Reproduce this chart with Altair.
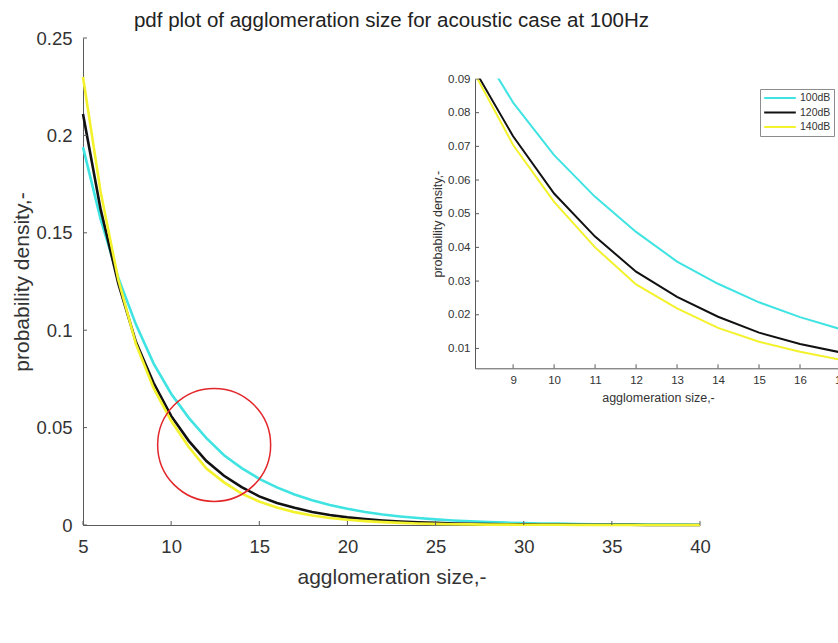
import altair as alt
import pandas as pd

# ---------------- data ----------------
sizes = list(range(5, 41))
pdf_100db = [0.194, 0.157, 0.127, 0.103, 0.0830, 0.0674, 0.0550, 0.0446, 0.0358, 0.0292,
             0.0237, 0.0193, 0.0157, 0.0127, 0.0103, 0.0083, 0.0067, 0.0054, 0.0044, 0.0036,
             0.0029, 0.0023, 0.0019, 0.0015, 0.0012, 0.0010, 0.0008, 0.0007, 0.0005, 0.0004,
             0.0004, 0.0003, 0.0002, 0.0002, 0.0002, 0.0001]
pdf_120db = [0.211, 0.162, 0.124, 0.094, 0.0730, 0.0560, 0.0432, 0.0328, 0.0253, 0.0194,
             0.0147, 0.0113, 0.0088, 0.0067, 0.0051, 0.0039, 0.0030, 0.0023, 0.0018, 0.0014,
             0.0011, 0.0008, 0.0006, 0.0005, 0.0004, 0.0003, 0.0002, 0.0002, 0.0001, 0.0001,
             0.0001, 0.0001, 0.0000, 0.0000, 0.0000, 0.0000]
pdf_140db = [0.230, 0.171, 0.126, 0.093, 0.0704, 0.0535, 0.0400, 0.0290, 0.0219, 0.0161,
             0.0120, 0.0090, 0.0066, 0.0049, 0.0036, 0.0027, 0.0020, 0.0015, 0.0011, 0.0008,
             0.0006, 0.0004, 0.0003, 0.0002, 0.0002, 0.0001, 0.0001, 0.0001, 0.0000, 0.0000,
             0.0000, 0.0000, 0.0000, 0.0000, 0.0000, 0.0000]
series_names = ["100dB", "120dB", "140dB"]
series_colors = ["#3fe4e2", "#111111", "#f3f22c"]

main_x_ticks = [5, 10, 15, 20, 25, 30, 35, 40]
main_y_ticks = [0, 0.05, 0.1, 0.15, 0.2, 0.25]
inset_x_ticks = [9, 10, 11, 12, 13, 14, 15, 16, 17]
inset_y_ticks = [0.01, 0.02, 0.03, 0.04, 0.05, 0.06, 0.07, 0.08, 0.09]

circle_x = [12.44]
circle_y = [0.0411]

title_text = "pdf plot of agglomeration size for acoustic case at 100Hz"
x_title = "agglomeration size,-"
y_title = "probability density,-"

# ---------------- layout / style ----------------
FONT = "Liberation Sans"
TXT = "#333333"
AXC = "#5a5a5a"
W, H = 617, 487
INSET_XR = [392, 758]
INSET_YR = [330.3, 41]
INSET_XD = [8.07, 17.0]
INSET_YD = [0.0041, 0.09]

rows = []
for name, vals in zip(series_names, [pdf_100db, pdf_120db, pdf_140db]):
    for s, v in zip(sizes, vals):
        rows.append({"size": s, "pdf": v, "series": name})
df = pd.DataFrame(rows)
inset_df = df[(df["size"] >= 8) & (df["size"] <= 17)]

legend = alt.Legend(title=None, orient="none", legendX=677, legendY=51,
                    symbolType="stroke", symbolSize=1000, symbolStrokeWidth=2,
                    labelFontSize=10.5, labelFont=FONT, labelColor=TXT, labelOffset=3,
                    padding=3, strokeColor="#8c8c8c", fillColor="white",
                    clipHeight=12, rowPadding=2.5)
color = alt.Color("series:N", sort=series_names,
                  scale=alt.Scale(domain=series_names, range=series_colors),
                  legend=legend)

mx = alt.Scale(domain=[5, 40], nice=False, zero=False)
my = alt.Scale(domain=[0, 0.25], nice=False, zero=False)
ax_mx = alt.Axis(values=main_x_ticks, format="d", title=x_title, ticks=False, tickSize=0,
                 labelPadding=12, titlePadding=11, labelFontSize=18.5, titleFontSize=21,
                 labelFlush=False, grid=False)
ax_my = alt.Axis(values=main_y_ticks, format="~g", title=y_title, ticks=False, tickSize=0,
                 labelPadding=11, titlePadding=3, labelFontSize=18.5, titleFontSize=21,
                 labelFlush=False, grid=False)

main_lines = alt.Chart(df).mark_line(strokeWidth=2.6).encode(
    x=alt.X("size:Q", scale=mx, axis=ax_mx),
    y=alt.Y("pdf:Q", scale=my, axis=ax_my),
    color=color,
)
main_xt = alt.Chart(pd.DataFrame({"size": main_x_ticks})).mark_rule(color=AXC, strokeWidth=1).encode(
    x=alt.X("size:Q", scale=mx, axis=ax_mx), y=alt.value(H), y2=alt.value(H - 4))
main_yt = alt.Chart(pd.DataFrame({"pdf": main_y_ticks})).mark_rule(color=AXC, strokeWidth=1).encode(
    y=alt.Y("pdf:Q", scale=my, axis=ax_my), x=alt.value(0), x2=alt.value(4))
circle = alt.Chart(pd.DataFrame({"size": circle_x, "pdf": circle_y})).mark_point(
    shape="circle", filled=False, size=12770, strokeWidth=1.5, color="#e3262a", opacity=1
).encode(x=alt.X("size:Q", scale=mx, axis=ax_mx), y=alt.Y("pdf:Q", scale=my, axis=ax_my))

main = alt.layer(main_lines, main_xt, main_yt, circle)

ix = alt.Scale(domain=INSET_XD, range=INSET_XR, nice=False, zero=False)
iy = alt.Scale(domain=INSET_YD, range=INSET_YR, nice=False, zero=False)
ax_ix = alt.Axis(orient="bottom", offset=INSET_YR[0] - H, values=inset_x_ticks, format="d",
                 title=x_title, ticks=False, tickSize=0, labelPadding=6, titlePadding=6,
                 labelFontSize=11.5, titleFontSize=12.5, labelFlush=False, grid=False, zindex=2)
ax_iy = alt.Axis(orient="left", offset=-INSET_XR[0], values=inset_y_ticks, format=".2f",
                 title=y_title, ticks=False, tickSize=0, labelPadding=5, titlePadding=3,
                 labelFontSize=11.5, titleFontSize=12.5, labelFlush=False, grid=False, zindex=2)

inset_lines = alt.Chart(inset_df).mark_line(strokeWidth=2).encode(
    x=alt.X("size:Q", scale=ix, axis=ax_ix),
    y=alt.Y("pdf:Q", scale=iy, axis=ax_iy),
    color=color,
)
inset_xt = alt.Chart(pd.DataFrame({"size": inset_x_ticks})).mark_rule(color=AXC, strokeWidth=1).encode(
    x=alt.X("size:Q", scale=ix, axis=ax_ix), y=alt.value(INSET_YR[0]), y2=alt.value(INSET_YR[0] - 4))
inset_yt = alt.Chart(pd.DataFrame({"pdf": inset_y_ticks})).mark_rule(color=AXC, strokeWidth=1).encode(
    y=alt.Y("pdf:Q", scale=iy, axis=ax_iy), x=alt.value(INSET_XR[0]), x2=alt.value(INSET_XR[0] + 4))

inset = alt.layer(inset_lines, inset_xt, inset_yt)

mask = alt.Chart(pd.DataFrame({"m": [0]})).mark_rect(color="white").encode(
    x=alt.value(INSET_XR[0] - 7), x2=alt.value(W + 170),
    y=alt.value(-4), y2=alt.value(INSET_YR[1] - 0.5))

chart = alt.layer(main, inset, mask).resolve_scale(
    x="independent", y="independent"
).properties(
    width=W, height=H,
    title=alt.TitleParams(text=title_text, fontSize=20.5, font=FONT, fontWeight="normal",
                          color="#222222", anchor="middle", frame="group", offset=-2),
    autosize=alt.AutoSizeParams(type="none"),
    padding={"left": 83, "top": 38, "right": 138, "bottom": 118},
    background="white",
).configure_view(stroke=None).configure_axis(
    labelFont=FONT, titleFont=FONT, labelColor=TXT, titleColor=TXT,
    domainColor=AXC, titleFontWeight="normal", grid=False,
)

chart.save("out.html", embed_options={"renderer": "svg", "actions": False})
